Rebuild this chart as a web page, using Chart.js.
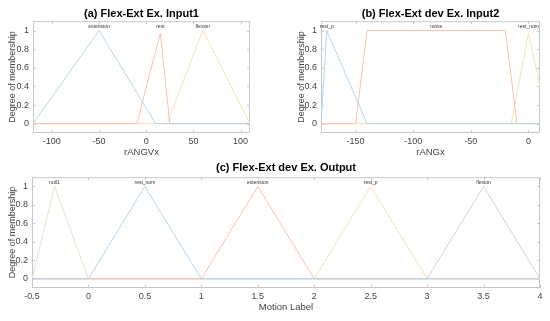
<!DOCTYPE html>
<html lang="en">
<head>
  <meta charset="utf-8">
  <script src="https://cdn.jsdelivr.net/npm/chart.js@4.4.1/dist/chart.umd.min.js"></script>
  <title>Membership functions</title>
</head>
<body>
  <canvas id="chart-a" width="262" height="160"></canvas>
  <canvas id="chart-b" width="261" height="160"></canvas>
  <canvas id="chart-c" width="550" height="167"></canvas>
</body>
</html>

<style>
  body {
    margin: 0;
    background: #fff;
    width: 550px;
    height: 321px;
    position: relative;
    overflow: hidden;
  }
  canvas { position: absolute; }
  #chart-a { left: 0; top: 0; }
  #chart-b { left: 289px; top: 0; }
  #chart-c { left: 0; top: 154px; }
</style>

<script>
// ---- (a) input 1 ----
const aTicks = [-100, -50, 0, 50, 100];
const aNames = ['extension', 'rest', 'flexion'];
const aPeaks = [-50, 15, 60];
const aExtension = [{x: -120, y: 0}, {x: -50, y: 1}, {x: 10, y: 0}, {x: 110, y: 0}];
const aRest = [{x: -120, y: 0}, {x: -10, y: 0}, {x: 15, y: 0.97}, {x: 25, y: 0}, {x: 110, y: 0}];
const aFlexion = [{x: -120, y: 0}, {x: 22, y: 0}, {x: 60, y: 1}, {x: 110, y: 0}];

// ---- (b) input 2 ----
const bTicks = [-150, -100, -50, 0];
const bNames = ['rest_p', 'move', 'rest_nom'];
const bPeaks = [-175, -80, 0];
const bRestP = [{x: -180, y: 0}, {x: -175, y: 1}, {x: -140, y: 0}, {x: 10, y: 0}];
const bMove = [{x: -180, y: 0}, {x: -150, y: 0}, {x: -140, y: 1}, {x: -20, y: 1}, {x: -10, y: 0}, {x: 10, y: 0}];
const bRestNom = [{x: -180, y: 0}, {x: -15, y: 0}, {x: 0, y: 0.97}, {x: 10, y: 0.4}];

// ---- (c) output ----
const cTicks = [-0.5, 0, 0.5, 1, 1.5, 2, 2.5, 3, 3.5, 4];
const cNames = ['null1', 'rest_nom', 'extension', 'rest_p', 'flexion'];
const cPeaks = [-0.3, 0.5, 1.5, 2.5, 3.5];
const cNull1 = [{x: -0.5, y: 0}, {x: -0.3, y: 1}, {x: 0, y: 0}, {x: 4, y: 0}];
const cRestNom = [{x: -0.5, y: 0}, {x: 0, y: 0}, {x: 0.5, y: 1}, {x: 1, y: 0}, {x: 4, y: 0}];
const cExtension = [{x: -0.5, y: 0}, {x: 1, y: 0}, {x: 1.5, y: 1}, {x: 2, y: 0}, {x: 4, y: 0}];
const cRestP = [{x: -0.5, y: 0}, {x: 2, y: 0}, {x: 2.5, y: 1}, {x: 3, y: 0}, {x: 4, y: 0}];
const cFlexion = [{x: -0.5, y: 0}, {x: 3, y: 0}, {x: 3.5, y: 1}, {x: 4, y: 0}];

const yTicks = [0, 0.2, 0.4, 0.6, 0.8, 1];

const blue = '#b6d6e9';
const orange = '#f4c3b0';
const yellow = '#f6e3b2';
const purple = '#d8cddd';
const green = '#e2e4c8';

const FONT = 'Liberation Sans, Arial, sans-serif';
const TEXT = '#444';

// box round the plot with inward tick marks
const frame = {
  id: 'frame',
  beforeDatasetsDraw(chart) {
    const {ctx, chartArea: a, scales: {x, y}} = chart;
    ctx.save();
    ctx.strokeStyle = '#c8c8c8';
    ctx.lineWidth = 1;
    ctx.strokeRect(a.left + 0.5, a.top + 0.5, a.width - 1, a.height - 1);
    ctx.beginPath();
    x.ticks.forEach(t => {
      const px = Math.round(x.getPixelForValue(t.value)) + 0.5;
      ctx.moveTo(px, a.bottom); ctx.lineTo(px, a.bottom - 3);
      ctx.moveTo(px, a.top); ctx.lineTo(px, a.top + 3);
    });
    y.ticks.forEach(t => {
      const py = Math.round(y.getPixelForValue(t.value)) + 0.5;
      ctx.moveTo(a.left, py); ctx.lineTo(a.left + 3, py);
      ctx.moveTo(a.right, py); ctx.lineTo(a.right - 3, py);
    });
    ctx.stroke();
    ctx.restore();
  }
};

// small name over each membership function
const peakLabels = {
  id: 'peakLabels',
  afterDatasetsDraw(chart, args, opts) {
    const {ctx, scales: {x, y}} = chart;
    ctx.save();
    ctx.font = '5px ' + FONT;
    ctx.fillStyle = '#333';
    ctx.textAlign = 'center';
    ctx.textBaseline = 'middle';
    opts.names.forEach((n, i) => {
      ctx.fillText(n, x.getPixelForValue(opts.at[i]), y.getPixelForValue(1.045));
    });
    ctx.restore();
  }
};

function line(data, color) {
  return {data: data, borderColor: color, borderWidth: 1, pointRadius: 0, fill: false, tension: 0};
}

function makeChart(id, o) {
  return new Chart(document.getElementById(id), {
    type: 'line',
    data: {datasets: o.datasets},
    options: {
      responsive: false,
      animation: false,
      events: [],
      layout: {padding: {left: 0, right: o.padRight, top: 0, bottom: 0}},
      scales: {
        x: {
          type: 'linear',
          min: o.xMin, max: o.xMax,
          afterBuildTicks: s => { s.ticks = o.xTicks.map(v => ({value: v})); },
          afterFit: s => { s.height = o.xHeight; },
          grid: {display: false, drawTicks: false},
          border: {display: false},
          ticks: {padding: 3, color: TEXT, font: {family: FONT, size: 9}, maxRotation: 0, callback: v => String(v)},
          title: {display: true, text: o.xTitle, color: TEXT, font: {family: FONT, size: 9.5}, padding: {top: 0, bottom: o.xTitlePad}}
        },
        y: {
          type: 'linear',
          min: -0.1, max: 1.1,
          afterBuildTicks: s => { s.ticks = yTicks.map(v => ({value: v})); },
          afterFit: s => { s.width = o.yWidth; },
          grid: {display: false, drawTicks: false},
          border: {display: false},
          ticks: {padding: 4, color: TEXT, font: {family: FONT, size: 9}, callback: v => String(v)},
          title: {display: true, text: 'Degree of membership', color: TEXT, font: {family: FONT, size: 9}, padding: {top: 7, bottom: 0}}
        }
      },
      plugins: {
        legend: {display: false},
        tooltip: {enabled: false},
        title: {
          display: true, fullSize: false, text: o.title, color: '#000',
          font: {family: FONT, size: 11, weight: 'bold'},
          padding: {top: 7.5, bottom: o.titleGap}
        },
        peakLabels: {names: o.names, at: o.peaks}
      }
    },
    plugins: [frame, peakLabels]
  });
}

makeChart('chart-a', {
  title: '(a) Flex-Ext Ex. Input1', xTitle: 'rANGVx',
  xMin: -120, xMax: 110, xTicks: aTicks,
  yWidth: 33, padRight: 12, xHeight: 27, xTitlePad: 2, titleGap: 0.5,
  names: aNames, peaks: aPeaks,
  datasets: [line(aExtension, blue), line(aRest, orange), line(aFlexion, yellow)]
});

makeChart('chart-b', {
  title: '(b) Flex-Ext dev Ex. Input2', xTitle: 'rANGx',
  xMin: -180, xMax: 10, xTicks: bTicks,
  yWidth: 32, padRight: 10, xHeight: 27, xTitlePad: 2, titleGap: 0.5,
  names: bNames, peaks: bPeaks,
  datasets: [line(bRestP, blue), line(bMove, orange), line(bRestNom, yellow)]
});

makeChart('chart-c', {
  title: '(c) Flex-Ext dev Ex. Output', xTitle: 'Motion Label',
  xMin: -0.5, xMax: 4, xTicks: cTicks,
  yWidth: 32, padRight: 10, xHeight: 33, xTitlePad: 8, titleGap: 2.5,
  names: cNames, peaks: cPeaks,
  datasets: [line(cRestNom, blue), line(cExtension, orange), line(cFlexion, purple), line(cNull1, green), line(cRestP, yellow)]
});
</script>
